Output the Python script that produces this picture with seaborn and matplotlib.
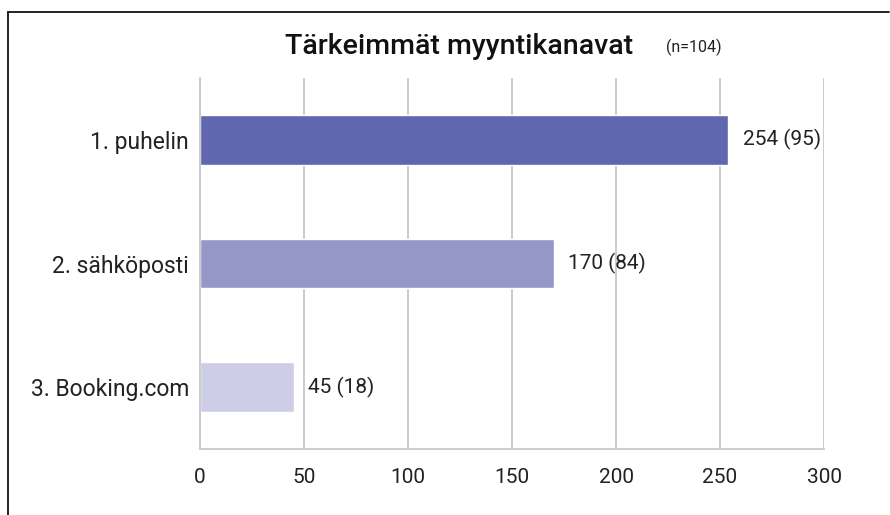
import matplotlib
matplotlib.use("Agg")
import matplotlib.pyplot as plt
import seaborn as sns
import pandas as pd
from matplotlib.lines import Line2D

categories = ["1. puhelin", "2. sähköposti", "3. Booking.com"]
values = [254, 170, 45]
respondents = [95, 84, 18]
colors = ["#6067AF", "#9597C9", "#CECDE8"]
xticks = [0, 50, 100, 150, 200, 250, 300]

sns.set_theme(style="white")
plt.rcParams['font.family'] = ['Roboto', 'DejaVu Sans']

df = pd.DataFrame({"cat": categories, "val": values})

fig = plt.figure(figsize=(8.9, 5.15), dpi=100)
ax = fig.add_axes([200/890, 1-449/515, 624/890, 371/515])

sns.barplot(data=df, y="cat", x="val", hue="cat", palette=colors, legend=False,
            width=0.4, ax=ax, saturation=1)

ax.set_xlim(0, 300)
ax.set_xticks(xticks)
ax.set_xticklabels([str(t) for t in xticks], fontsize=15, color="#222222")
ax.tick_params(axis="y", labelsize=16.5, labelcolor="#222222", length=0, pad=8)
ax.tick_params(axis="x", length=0, pad=14)
ax.set_xlabel("")
ax.set_ylabel("")
ax.grid(axis="x", color="#C8C8C8", linewidth=1.3)
ax.set_axisbelow(True)
for s in ["top", "right"]:
    ax.spines[s].set_visible(False)
for s in ["left", "bottom"]:
    ax.spines[s].set_color("#C8C8C8")
    ax.spines[s].set_linewidth(1.3)

for i, (v, r) in enumerate(zip(values, respondents)):
    ax.text(v + 7, i, f"{v} ({r})", va="center", ha="left", fontsize=15, color="#222222")

fig.text(459/890, 1-46/515, "Tärkeimmät myyntikanavat", ha="center", va="center",
         fontsize=20.5, fontweight="medium", color="#111111")
fig.text(694/890, 1-47/515, "(n=104)", ha="center", va="center", fontsize=11.5, color="#222222")

fig.add_artist(Line2D([8/890, 889/890], [1-12/515, 1-12/515], transform=fig.transFigure,
                      color="#111111", linewidth=1.3))
fig.add_artist(Line2D([8/890, 8/890], [1-12/515, 0], transform=fig.transFigure,
                      color="#111111", linewidth=1.3))

fig.savefig("out.png", dpi=100)
